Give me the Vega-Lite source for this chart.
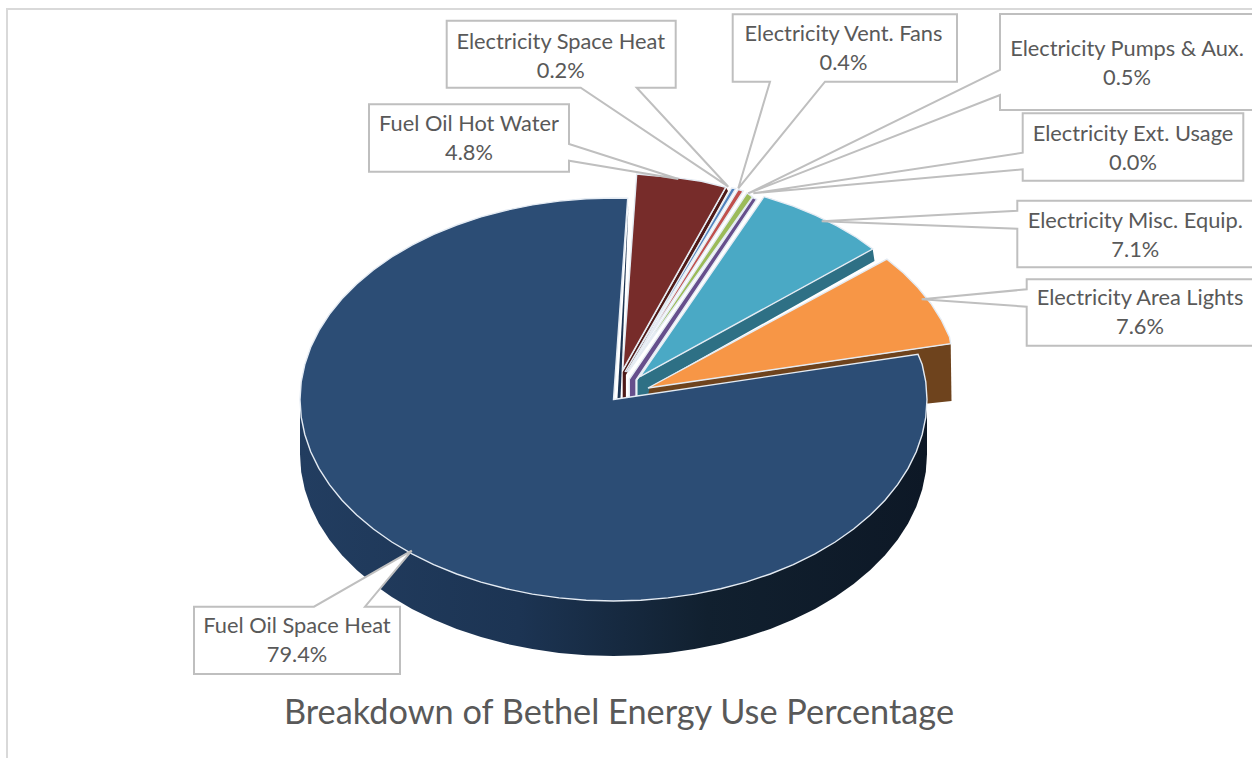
{
  "$schema": "https://vega.github.io/schema/vega-lite/v6.json",
  "width": 1252,
  "height": 758,
  "padding": 0,
  "autosize": "none",
  "background": "#ffffff",
  "config": {"view": {"stroke": null}},
  "projection": {"type": "identity", "scale": 1, "translate": [613.5, 399.5]},
  "resolve": {"scale": {"color": "independent"}},
  "datasets": {
    "frame": [
      {"type": "Feature", "properties": {"part": "frame"}, "geometry": {"type": "LineString", "coordinates": [[-606.5, 358.5], [-606.5, -390.5], [650, -390.5]]}}
    ],
    "rim": [
      {"type": "Feature", "properties": {"name": "Fuel Oil Space Heat"}, "geometry": {"type": "Polygon", "coordinates": [[[313.5, 0], [313.5, 55], [312.3, 72.6], [308.7, 90], [302.8, 107.2], [294.6, 123.9], [284.1, 140.2], [271.5, 155.8], [256.8, 170.6], [240.1, 184.5], [221.7, 197.5], [201.5, 209.4], [179.8, 220.1], [156.8, 229.5], [132.5, 237.6], [107.2, 244.3], [81.1, 249.6], [54.4, 253.4], [27.3, 255.7], [0, 256.5], [-27.3, 255.7], [-54.4, 253.4], [-81.1, 249.6], [-107.2, 244.3], [-132.5, 237.6], [-156.8, 229.5], [-179.8, 220.1], [-201.5, 209.4], [-221.7, 197.5], [-240.1, 184.5], [-256.8, 170.6], [-271.5, 155.8], [-284.1, 140.2], [-294.6, 123.9], [-302.8, 107.2], [-308.7, 90], [-312.3, 72.6], [-313.5, 55], [-313.5, 0], [313.5, 0]]]}}
    ],
    "walls": [
      {"type": "Feature", "properties": {"name": "Electricity Area Lights"}, "geometry": {"type": "Polygon", "coordinates": [[[34.5, -11.5], [337.2, -55.5], [338, 1.5], [314.5, 4], [34.5, -1.5], [34.5, -11.5]]]}},
      {"type": "Feature", "properties": {"name": "Electricity Misc. Equip."}, "geometry": {"type": "Polygon", "coordinates": [[[26.5, -22.5], [259.2, -150.5], [261, -138.5], [36.5, -12.5], [34.5, -4.5], [24, -4], [24, -19.5], [26.5, -22.5]]]}},
      {"type": "Feature", "properties": {"name": "Fuel Oil Hot Water"}, "geometry": {"type": "Polygon", "coordinates": [[[9.2, -27.5], [112.8, -211.5], [114.5, -208.5], [12.4, -24.5], [12.4, -1.5], [9.2, -1.5], [9.2, -27.5]]]}},
      {"type": "Feature", "properties": {"name": "Fuel Oil Space Heat"}, "geometry": {"type": "Polygon", "coordinates": [[[4, -1], [7, -1], [15, -194.5], [4, -1]]]}}
    ],
    "faces": [
      {"type": "Feature", "properties": {"name": "Fuel Oil Hot Water"}, "geometry": {"type": "Polygon", "coordinates": [[[9.2, -29.5], [23.2, -225.5], [35.7, -224.2], [62, -221.9], [87.9, -218.3], [112.2, -212.2], [9.2, -29.5]]]}},
      {"type": "Feature", "properties": {"name": "Electricity Space Heat"}, "geometry": {"type": "Polygon", "coordinates": [[[11.5, -27.5], [118.2, -211.5], [122.2, -211], [11.5, -27.5]]]}},
      {"type": "Feature", "properties": {"name": "Electricity Vent. Fans"}, "geometry": {"type": "Polygon", "coordinates": [[[13, -27.5], [124.8, -210], [129.8, -208.5], [13, -27.5]]]}},
      {"type": "Feature", "properties": {"name": "Electricity Pumps & Aux."}, "geometry": {"type": "Polygon", "coordinates": [[[14.5, -27.5], [133.5, -206.5], [139, -202.5], [14.5, -27.5]]]}},
      {"type": "Feature", "properties": {"name": "Electricity Ext. Usage"}, "geometry": {"type": "Polygon", "coordinates": [[[15.8, -20.2], [139.2, -201.8], [143.2, -200.2], [22.5, -19.5], [22.5, -1.5], [15.8, -1.5], [15.8, -20.2]]]}},
      {"type": "Feature", "properties": {"name": "Electricity Misc. Equip."}, "geometry": {"type": "Polygon", "coordinates": [[[26.5, -22.8], [259.2, -150.5], [243.1, -162], [223.4, -173.6], [202.2, -184.1], [179.7, -193.3], [156, -201.2], [150.5, -202.8], [26.5, -22.8]]]}},
      {"type": "Feature", "properties": {"name": "Electricity Area Lights"}, "geometry": {"type": "Polygon", "coordinates": [[[34.5, -11.5], [273.4, -140.4], [290, -126.5], [304.6, -111.8], [317.2, -96.3], [327.6, -80], [336, -62.5], [337.2, -55.8], [34.5, -11.5]]]}},
      {"type": "Feature", "properties": {"name": "Fuel Oil Space Heat"}, "geometry": {"type": "Polygon", "coordinates": [[[0, 0], [304.5, -45.3], [308.7, -35], [312.3, -17.6], [313.5, 0], [312.3, 17.6], [308.7, 35], [302.8, 52.2], [294.6, 68.9], [284.1, 85.2], [271.5, 100.8], [256.8, 115.6], [240.1, 129.5], [221.7, 142.5], [201.5, 154.4], [179.8, 165.1], [156.8, 174.5], [132.5, 182.6], [107.2, 189.3], [81.1, 194.6], [54.4, 198.4], [27.3, 200.7], [0, 201.5], [-27.3, 200.7], [-54.4, 198.4], [-81.1, 194.6], [-107.2, 189.3], [-132.5, 182.6], [-156.8, 174.5], [-179.8, 165.1], [-201.5, 154.4], [-221.7, 142.5], [-240.1, 129.5], [-256.8, 115.6], [-271.5, 100.8], [-284.1, 85.2], [-294.6, 68.9], [-302.8, 52.2], [-308.7, 35], [-312.3, 17.6], [-313.5, 0], [-312.3, -17.6], [-308.7, -35], [-302.8, -52.2], [-294.6, -68.9], [-284.1, -85.2], [-271.5, -100.8], [-256.8, -115.6], [-240.1, -129.5], [-221.7, -142.5], [-201.5, -154.4], [-179.8, -165.1], [-156.8, -174.5], [-132.5, -182.6], [-107.2, -189.3], [-81.1, -194.6], [-54.4, -198.4], [-27.3, -200.7], [0, -201.5], [14.2, -201.3], [0, 0]]]}}
    ],
    "callouts": [
      {"type": "Feature", "properties": {"name": "Electricity Pumps & Aux."}, "geometry": {"type": "Polygon", "coordinates": [[[386.5, -385.5], [646.5, -385.5], [646.5, -289.5], [386.5, -289.5], [386.5, -304.5], [134.8, -206.2], [386.5, -329.5], [386.5, -385.5]]]}},
      {"type": "Feature", "properties": {"name": "Electricity Ext. Usage"}, "geometry": {"type": "Polygon", "coordinates": [[[409.2, -286.2], [629.8, -286.2], [629.8, -218.8], [409.2, -218.8], [409.2, -230.2], [139.8, -206.2], [409.2, -246.8], [409.2, -286.2]]]}},
      {"type": "Feature", "properties": {"name": "Electricity Misc. Equip."}, "geometry": {"type": "Polygon", "coordinates": [[[403.8, -198.8], [646.5, -198.8], [646.5, -132.2], [403.8, -132.2], [403.8, -170.8], [208.2, -178.2], [403.8, -188.8], [403.8, -198.8]]]}},
      {"type": "Feature", "properties": {"name": "Electricity Area Lights"}, "geometry": {"type": "Polygon", "coordinates": [[[413.2, -120.2], [646.5, -120.2], [646.5, -53.8], [413.2, -53.8], [413.2, -92.8], [308.2, -100.2], [413.2, -110.2], [413.2, -120.2]]]}},
      {"type": "Feature", "properties": {"name": "Electricity Vent. Fans"}, "geometry": {"type": "Polygon", "coordinates": [[[119.2, -385.2], [343.5, -385.2], [343.5, -317.8], [211.5, -317.8], [124.8, -211.2], [156.5, -317.8], [119.2, -317.8], [119.2, -385.2]]]}},
      {"type": "Feature", "properties": {"name": "Electricity Space Heat"}, "geometry": {"type": "Polygon", "coordinates": [[[-166.8, -378.8], [62.2, -378.8], [62.2, -311.8], [23.2, -311.8], [114.8, -212.8], [-32.8, -311.8], [-166.8, -311.8], [-166.8, -378.8]]]}},
      {"type": "Feature", "properties": {"name": "Fuel Oil Hot Water"}, "geometry": {"type": "Polygon", "coordinates": [[[-244.5, -295.2], [-44.5, -295.2], [-44.5, -255.5], [64.8, -220.5], [-44.5, -238.8], [-44.5, -227.8], [-244.5, -227.8], [-244.5, -295.2]]]}},
      {"type": "Feature", "properties": {"name": "Fuel Oil Space Heat"}, "geometry": {"type": "Polygon", "coordinates": [[[-419.5, 207.2], [-299.5, 207.2], [-201.8, 151.2], [-248.5, 207.2], [-213.5, 207.2], [-213.5, 274.5], [-419.5, 274.5], [-419.5, 207.2]]]}}
    ],
    "labels": [
      {"name": "Fuel Oil Space Heat", "share": 0.794, "lon": -316.5, "lat": 233.5},
      {"name": "Fuel Oil Hot Water", "share": 0.048, "lon": -144.5, "lat": -268.5},
      {"name": "Electricity Space Heat", "share": 0.002, "lon": -52.8, "lat": -350.5},
      {"name": "Electricity Vent. Fans", "share": 0.004, "lon": 230, "lat": -358.5},
      {"name": "Electricity Pumps & Aux.", "share": 0.005, "lon": 513.5, "lat": -343.5},
      {"name": "Electricity Ext. Usage", "share": 0.0, "lon": 519.5, "lat": -258.8},
      {"name": "Electricity Misc. Equip.", "share": 0.071, "lon": 521.8, "lat": -171.8},
      {"name": "Electricity Area Lights", "share": 0.076, "lon": 526.5, "lat": -94.5}
    ],
    "heading": [
      {"title": "Breakdown of Bethel Energy Use Percentage", "lon": 5.5, "lat": 324.5}
    ]
  },
  "layer": [
    {
      "data": {"name": "frame"},
      "mark": {"type": "geoshape", "filled": false, "stroke": "#d9d9d9", "strokeWidth": 2}
    },
    {
      "data": {"name": "rim"},
      "mark": {
        "type": "geoshape",
        "fill": {
          "gradient": "linear", "x1": 0, "y1": 0, "x2": 1, "y2": 0,
          "stops": [
            {"offset": 0, "color": "#223d60"},
            {"offset": 0.35, "color": "#1c3453"},
            {"offset": 0.65, "color": "#11202f"},
            {"offset": 1, "color": "#0d1826"}
          ]
        }
      }
    },
    {
      "data": {"name": "walls"},
      "mark": {"type": "geoshape"},
      "encoding": {
        "color": {
          "field": "properties.name", "type": "nominal", "legend": null,
          "scale": {
            "domain": ["Electricity Area Lights", "Electricity Misc. Equip.", "Fuel Oil Hot Water", "Fuel Oil Space Heat"],
            "range": ["#6e431d", "#2e7085", "#4e1a18", "#1c3453"]
          }
        }
      }
    },
    {
      "data": {"name": "faces"},
      "mark": {"type": "geoshape", "stroke": "#e4ebf3", "strokeWidth": 1.4},
      "encoding": {
        "color": {
          "field": "properties.name", "type": "nominal", "legend": null,
          "scale": {
            "domain": ["Fuel Oil Space Heat", "Fuel Oil Hot Water", "Electricity Space Heat", "Electricity Vent. Fans", "Electricity Pumps & Aux.", "Electricity Ext. Usage", "Electricity Misc. Equip.", "Electricity Area Lights"],
            "range": ["#2c4d75", "#772c2a", "#4f81bd", "#c0504d", "#9bbb59", "#664f8c", "#4aa9c5", "#f79646"]
          }
        }
      }
    },
    {
      "data": {"name": "callouts"},
      "mark": {"type": "geoshape", "fill": "#ffffff", "stroke": "#bfbfbf", "strokeWidth": 2}
    },
    {
      "data": {"name": "labels"},
      "mark": {"type": "text", "font": "Lato", "fontSize": 21.8, "color": "#595959", "align": "center", "baseline": "alphabetic"},
      "encoding": {
        "longitude": {"field": "lon", "type": "quantitative"},
        "latitude": {"field": "lat", "type": "quantitative"},
        "text": {"field": "name", "type": "nominal"}
      }
    },
    {
      "data": {"name": "labels"},
      "mark": {"type": "text", "font": "Lato", "fontSize": 21.8, "color": "#595959", "align": "center", "baseline": "alphabetic", "dy": 29},
      "encoding": {
        "longitude": {"field": "lon", "type": "quantitative"},
        "latitude": {"field": "lat", "type": "quantitative"},
        "text": {"field": "share", "type": "quantitative", "format": ".1%"}
      }
    },
    {
      "data": {"name": "heading"},
      "mark": {"type": "text", "font": "Lato", "fontSize": 34.3, "color": "#595959", "align": "center", "baseline": "alphabetic"},
      "encoding": {
        "longitude": {"field": "lon", "type": "quantitative"},
        "latitude": {"field": "lat", "type": "quantitative"},
        "text": {"field": "title", "type": "nominal"}
      }
    }
  ]
}
